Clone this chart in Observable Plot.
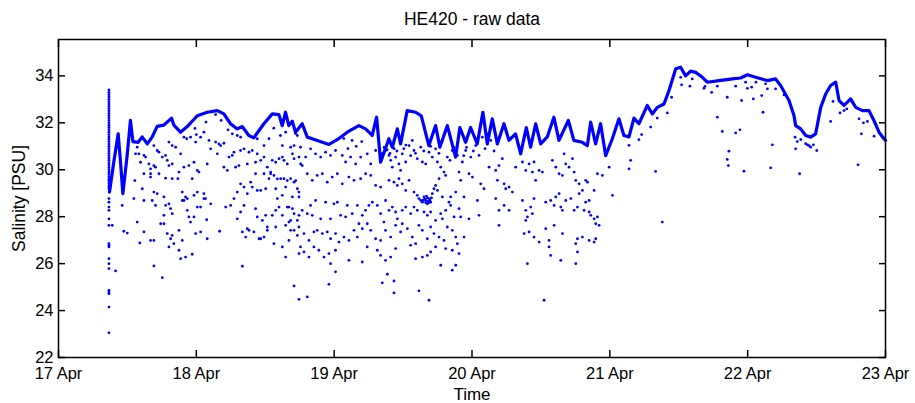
<!DOCTYPE html>
<html><head><meta charset="utf-8">
<script src="https://cdn.jsdelivr.net/npm/d3@7"></script>
<script src="https://cdn.jsdelivr.net/npm/@observablehq/plot@0.6"></script>
<style>body{margin:0;background:#fff;overflow:hidden} svg{display:block}</style>
</head><body><div id="chart"></div>
<script>
const titleText = "HE420 - raw data";
const xLabel = "Time";
const yLabel = "Salinity [PSU]";
const xTicks = [17, 18, 19, 20, 21, 22, 23];
const yTicks = [22, 24, 26, 28, 30, 32, 34];

// upper (dense) record traced as a line: day of April, salinity
const lineDay = [17.370,17.401,17.433,17.450,17.467,17.498,17.522,17.540,17.578,17.607,17.644,17.680,17.716,17.764,17.820,17.837,17.885,17.934,18.007,18.079,18.152,18.200,18.248,18.297,18.333,18.381,18.417,18.490,18.551,18.599,18.623,18.647,18.671,18.696,18.720,18.768,18.805,18.877,18.962,19.022,19.095,19.179,19.228,19.276,19.308,19.337,19.397,19.422,19.458,19.482,19.530,19.591,19.632,19.687,19.736,19.767,19.821,19.881,19.912,19.954,19.990,20.038,20.079,20.111,20.147,20.184,20.232,20.268,20.316,20.353,20.394,20.425,20.462,20.498,20.546,20.594,20.631,20.699,20.739,20.800,20.837,20.861,20.897,20.933,20.970,21.018,21.066,21.102,21.139,21.175,21.211,21.272,21.308,21.345,21.393,21.429,21.478,21.514,21.550,21.586,21.623,21.671,21.707,21.792,21.889,21.949,21.998,22.058,22.143,22.203,22.239,22.300,22.336,22.348,22.385,22.421,22.457,22.493,22.530,22.566,22.602,22.639,22.663,22.699,22.747,22.784,22.832,22.880,22.916,22.953,22.989,23.000];
const lineSal = [29.05,30.32,31.53,30.32,28.98,30.61,32.10,31.20,31.17,31.40,31.10,31.40,31.85,31.90,32.20,31.90,31.60,31.84,32.30,32.45,32.52,32.38,31.96,31.74,31.84,31.46,31.36,31.96,32.38,32.35,31.88,32.45,31.88,32.07,31.60,31.96,31.39,31.25,31.08,31.28,31.60,31.88,31.74,31.46,32.24,30.32,31.32,30.96,31.74,31.10,32.52,32.45,32.30,31.03,31.88,30.96,31.88,30.54,31.80,31.17,31.80,31.10,32.45,31.10,32.17,31.10,31.96,31.25,31.53,30.68,31.80,30.96,31.96,31.10,31.40,32.24,31.25,32.10,31.25,31.17,31.03,32.03,31.10,31.96,30.60,31.32,32.17,31.46,31.40,32.20,31.96,32.74,32.38,32.66,32.80,33.37,34.30,34.37,34.00,34.20,34.15,33.94,33.73,33.80,33.87,33.91,34.05,33.94,33.80,33.87,33.59,32.95,32.31,31.88,31.74,31.46,31.39,31.53,32.66,33.23,33.59,33.73,32.95,32.74,33.02,32.66,32.52,32.52,32.10,31.60,31.32,31.25];

// vertical burst of samples at the start of the record
const spikeDay = 17.366;
const spikeSal = [33.40,33.30,33.20,33.10,33.00,32.90,32.80,32.70,32.60,32.50,32.40,32.30,32.20,32.10,32.00,31.90,31.80,31.70,31.60,31.50,31.40,31.30,31.20,31.10,31.00,30.90,30.80,30.70,30.60,30.50,30.40,30.30,30.20,30.10,30.00,29.90,29.80,29.70,29.60,29.50,29.40,29.30,29.20,28.77,28.62,28.41,28.27,27.91,27.63,26.85,26.78,26.71,26.21,26.00,25.79,24.86,24.79,24.72,24.15,23.05];

// scattered raw samples: [day of April, salinity]
const scatterPoints = [
[17.390,27.63],[17.414,25.69],[17.462,28.48],
[17.886,31.60],[17.910,31.39],[17.930,31.32],[17.958,31.39],[17.995,31.18],[18.031,31.39],[18.055,31.60],[18.092,31.25],[18.140,31.18],[18.164,31.10],[18.176,31.03],[18.200,31.13],[18.261,31.53],[18.297,31.46],[18.321,31.39],[18.442,31.32],[18.491,31.03],[18.527,31.32],[18.624,31.03],[18.648,31.60],[18.684,30.96],[18.709,31.03],[18.733,31.46],
[17.571,30.96],[17.692,31.03],[17.716,30.82],[17.729,30.75],[17.801,31.18],[17.825,31.03],[17.850,30.96],[17.886,30.68],[17.753,30.54],[17.777,30.61],[17.789,30.40],[17.801,30.18],[17.825,30.25],[17.559,30.68],[17.583,30.68],[17.595,30.32],[17.620,30.61],[17.632,30.54],[17.656,30.25],[17.668,30.04],[17.692,30.18],[17.704,30.11],[17.620,29.83],[17.668,29.83],[17.668,29.69],[17.729,29.83],[17.777,29.64],[17.874,29.90],[17.910,30.11],[17.946,30.18],[17.983,30.32],[18.007,29.97],[18.019,29.90],[18.079,30.25],[18.104,30.89],[18.152,30.68],[18.200,30.11],[18.225,29.97],[18.237,30.54],[18.261,30.61],[18.273,30.75],[18.285,30.11],[18.309,30.18],[18.321,30.82],[18.346,30.89],[18.370,30.25],[18.382,30.75],[18.406,30.82],[18.430,30.32],[18.442,30.68],[18.467,30.40],[18.491,30.54],[18.515,30.11],[18.539,29.90],[18.551,30.40],[18.576,30.32],[18.588,29.61],[18.600,30.47],[18.624,30.54],[18.636,30.40],[18.660,30.25],[18.660,29.54],[18.697,30.68],[18.709,30.47],[18.721,29.54],[18.745,30.54],[18.757,30.25],
[17.554,29.54],[17.608,29.19],[17.692,29.05],[17.716,28.98],[17.825,29.62],[17.866,29.62],[17.898,29.05],[17.910,28.69],[17.922,28.84],[17.934,28.77],[17.970,29.62],[17.983,28.91],[18.007,29.05],[18.055,28.98],[18.067,28.77],[18.104,28.55],[18.213,28.41],[18.249,28.48],[18.273,28.77],[18.297,29.05],[18.321,29.40],[18.346,29.26],[18.370,28.98],[18.394,29.47],[18.406,29.26],[18.430,29.83],[18.442,29.12],[18.467,29.12],[18.491,29.83],[18.503,29.19],[18.527,29.62],[18.539,29.83],[18.563,29.76],[18.576,29.19],[18.588,28.77],[18.612,29.62],[18.624,28.91],[18.636,29.62],[18.648,29.26],[18.672,28.41],[18.684,29.62],[18.697,28.84],[18.709,29.47],[18.733,29.19],[18.745,28.84],
[17.547,28.77],[17.620,28.69],[17.680,28.69],[17.704,28.48],[17.765,28.84],[17.777,28.48],[17.801,28.55],[17.813,28.34],[17.765,28.06],[17.825,28.13],[17.898,28.69],[17.934,28.27],[17.946,27.99],[17.958,27.77],[17.983,27.99],[18.007,28.41],[18.031,28.41],[18.055,28.77],[18.075,27.87],[18.297,27.91],[18.321,28.20],[18.346,28.48],[18.430,28.34],[18.442,27.99],[18.479,27.84],[18.503,28.06],[18.515,27.56],[18.551,28.06],[18.576,28.27],[18.600,28.41],[18.624,28.06],[18.648,27.63],[18.660,28.41],[18.672,27.77],[18.684,27.84],[18.697,28.34],[18.709,28.13],[18.733,27.84],[18.745,28.06],
[17.571,27.77],[17.741,27.70],[17.765,27.70],[17.620,27.35],[17.668,26.99],[17.692,26.99],[17.590,26.88],[17.789,27.28],[17.813,27.06],[17.825,27.20],[17.801,26.71],[17.837,26.85],[17.874,27.42],[17.898,26.99],[17.874,26.57],[17.886,26.21],[17.922,26.28],[17.970,26.40],[17.995,27.28],[18.031,27.35],[18.079,27.06],[18.169,27.38],[18.334,27.35],[18.358,27.13],[18.370,27.49],[18.382,27.42],[18.418,27.35],[18.455,27.06],[18.467,27.06],[18.491,27.13],[18.515,27.42],[18.563,26.85],[18.576,27.56],[18.624,26.71],[18.648,26.28],[18.672,26.99],[18.684,27.42],[18.709,27.42],[18.733,27.20],[18.745,26.43],[17.692,25.90],[17.753,25.40],[18.334,25.89],[18.709,25.05],[18.745,24.48],[17.474,27.38],[17.499,27.30],
[17.990,31.76],[18.070,32.03],[18.140,32.35],[18.180,32.10],[18.230,31.70],[18.000,31.50],[18.562,31.77],[18.610,31.46],[18.720,31.54],[19.070,31.33],[19.130,31.25],[19.100,30.90],[19.160,31.00],[19.200,31.20],
[18.756,30.96],[18.793,30.54],[18.829,30.89],[18.865,30.68],[18.902,30.54],[18.938,30.75],[18.974,30.61],[19.010,30.82],[19.059,30.61],[19.083,30.33],[19.119,30.54],[19.156,30.25],[19.192,30.54],[19.240,30.68],[19.265,30.25],[19.301,30.82],[18.768,30.18],[18.805,29.83],[18.841,29.55],[18.877,29.76],[18.914,29.83],[18.950,29.47],[18.986,29.69],[19.023,29.83],[19.059,29.40],[19.107,29.69],[19.144,29.55],[19.192,29.62],[19.228,29.83],[19.265,29.76],[19.301,29.33],[19.337,29.26],
[19.373,30.82],[19.398,30.61],[19.410,30.40],[19.422,30.11],[19.446,30.54],[19.470,30.25],[19.482,29.97],[19.494,30.68],[19.519,30.33],[19.543,31.03],[19.567,31.25],[19.579,30.82],[19.603,30.47],[19.628,30.96],[19.640,30.33],[19.664,30.25],[19.688,30.75],[19.712,30.54],[19.736,30.89],[19.749,30.33],[19.773,30.11],[19.797,29.90],[19.821,30.54],[19.857,30.82],[19.894,30.61],[19.930,30.33],[19.954,30.82],[19.991,30.54],[20.027,31.03],[20.051,30.61],[20.075,31.39],[20.112,31.53],[20.136,31.25],
[19.350,30.70],[19.362,30.95],[19.385,30.85],[19.405,30.70],[19.435,30.90],[19.455,30.80],[19.505,30.90],[19.520,31.05],[19.555,30.60],[19.590,30.70],[19.650,30.80],[19.700,31.00],[19.760,30.70],[19.840,30.40],[19.870,30.95],[19.940,30.60],[19.960,30.95],[20.010,30.80],[20.095,30.90],[20.160,30.80],
[19.398,29.55],[19.434,29.47],[19.458,29.33],[19.470,29.62],[19.494,29.40],[19.519,29.12],[19.543,29.55],[19.579,29.05],[19.603,28.91],[19.615,28.77],[19.628,28.69],[19.640,28.62],[19.652,28.84],[19.664,28.69],[19.676,28.55],[19.688,28.77],[19.700,28.62],[19.712,28.98],[19.724,29.19],[19.736,29.33],[19.749,29.12],[19.761,29.62],[19.785,28.84],[19.809,29.76],[19.833,28.62],[19.845,28.84],[19.882,29.05],[19.906,29.90],[19.918,29.55],[19.942,28.84],[19.978,29.83],[20.003,29.69],[20.039,28.69],[20.063,29.40],[20.087,29.19],[20.124,30.11],
[19.658,28.75],[19.670,28.88],[19.682,28.65],[19.694,28.70],[19.706,28.80],[19.646,28.70],[19.676,28.80],[19.688,28.60],[19.664,28.60],
[20.172,29.97],[20.184,29.55],[20.196,30.18],[20.220,30.47],[20.233,29.40],[20.245,29.19],[20.269,29.26],[20.293,29.05],[20.317,30.11],[20.366,30.33],[20.390,29.97],[20.414,30.25],[20.438,29.90],[20.450,30.33],[20.462,29.55],[20.487,29.97],[20.511,29.90],
[20.583,30.40],[20.608,30.11],[20.632,29.83],[20.656,29.76],[20.668,30.68],[20.680,30.25],[20.704,30.11],[20.729,30.47],[20.741,29.90],[20.753,29.55],[20.777,29.40],[20.801,29.12],[20.825,29.55],[20.838,29.47],[20.850,28.69],[20.886,29.12],[20.910,29.83],[20.946,29.76],[21.019,28.91],[20.995,30.11],
[20.172,28.77],[20.196,28.27],[20.233,28.48],[20.269,28.27],[20.366,28.69],[20.390,28.27],[20.402,27.99],[20.426,28.41],[20.450,28.77],[20.438,28.13],[20.390,27.84],
[20.535,28.62],[20.571,28.69],[20.596,28.48],[20.608,28.84],[20.632,28.98],[20.644,28.41],[20.656,28.27],[20.680,28.69],[20.717,28.77],[20.741,28.27],[20.765,28.41],[20.777,28.98],[20.813,28.27],[20.825,28.62],[20.850,28.20],[20.862,28.06],[20.886,27.91],[20.898,27.70],[20.910,27.99],[20.922,27.63],
[18.744,29.05],[18.768,28.27],[18.805,28.13],[18.829,28.48],[18.841,28.06],[18.865,28.69],[18.902,27.91],[18.938,28.62],[18.974,27.91],[18.998,28.55],[19.023,28.62],[19.047,28.06],[19.083,27.99],[19.095,28.48],[19.131,28.13],[19.168,28.48],[19.204,28.06],[19.228,28.27],[19.252,28.48],[19.277,28.62],[19.313,28.48],[19.337,28.13],[19.361,27.77],[19.373,28.69],[19.398,28.27],[19.422,28.41],[19.446,28.20],[19.458,27.91],[19.494,28.27],[19.519,28.41],[19.555,28.13],[19.579,28.41],[19.603,28.27],[19.652,28.20],[19.676,28.06],[19.700,28.20],[19.736,27.84],[19.773,28.13],[19.785,27.91],[19.809,28.27],[19.845,28.48],[19.870,27.99],[19.906,28.34],[19.918,27.99],[19.978,27.91],[20.051,28.06],
[18.744,27.56],[18.781,27.28],[18.817,26.99],[18.853,27.35],[18.877,27.42],[18.914,27.28],[18.950,27.35],[18.974,27.06],[19.010,27.28],[19.035,26.92],[19.071,27.13],[19.107,26.99],[19.144,27.42],[19.168,27.13],[19.180,27.70],[19.204,27.49],[19.240,27.70],[19.265,27.42],[19.301,27.06],[19.337,26.99],[19.373,27.42],[19.410,27.13],[19.446,27.63],[19.482,27.35],[19.494,27.70],[19.531,27.49],[19.567,27.13],[19.591,26.85],[19.615,27.63],[19.640,27.42],[19.676,27.06],[19.700,27.56],[19.724,27.28],[19.761,27.13],[19.797,26.99],[19.821,27.56],[19.857,27.42],[19.882,27.13],[19.894,26.85],[19.942,27.13],
[20.196,27.63],[20.378,27.28],[20.414,27.35],[20.450,27.13],[20.487,26.92],[20.535,27.49],[20.559,26.99],[20.596,27.63],[20.656,27.28],[20.765,27.06],[20.801,27.13],[20.850,26.99],[20.886,26.92],[20.898,27.06],
[18.756,26.71],[18.781,26.50],[18.817,26.28],[18.853,26.71],[18.889,26.57],[18.926,26.28],[18.962,26.43],[19.010,26.57],[18.974,26.00],[19.107,26.14],[19.204,26.07],[19.240,26.71],[19.313,26.57],[19.337,26.35],[19.373,26.14],[19.410,26.28],[19.446,26.64],[19.555,26.78],[19.591,26.21],[19.640,26.28],[19.676,26.35],[19.700,26.50],[19.736,26.71],[19.773,25.93],[19.809,26.64],[19.857,26.57],[19.906,26.43],[19.882,25.93],
[20.402,26.00],[20.559,26.71],[20.571,26.35],[20.644,26.14],[20.753,26.85],[20.765,26.50],[20.753,26.00],
[19.010,25.65],[18.962,25.12],[18.805,24.58],[19.349,25.18],[19.386,25.55],[19.434,25.26],[19.434,24.75],[19.615,24.84],[19.688,24.44],[19.857,25.72],[20.523,24.44],
[21.381,27.77],[21.139,31.04],[21.151,30.40],[21.139,30.04],[21.211,31.28],[21.231,31.50],[21.296,31.82],[21.332,29.93],
[21.344,32.20],[21.417,32.42],[21.448,33.09],[21.514,33.94],[21.521,33.62],[21.581,33.56],[21.598,33.87],[21.683,33.47],[21.739,33.30],[21.780,32.24],[21.816,31.63],[21.852,33.09],[21.864,30.79],[21.852,30.44],[21.860,30.18],[21.913,31.57],[21.944,31.70],[21.956,32.95],[21.973,29.94],[21.998,33.47],[22.029,33.52],[22.041,33.02],[22.102,33.16],[22.111,32.45],[22.143,33.45],[22.167,30.08],[22.179,31.06],[22.203,33.45],[22.264,33.19],[22.344,31.39],[22.348,30.89],[22.377,29.83],
[21.690,33.55],[21.780,33.56],[21.913,33.56],[21.985,33.73],[22.060,33.73],[22.155,33.80],[22.130,33.66],
[22.360,31.20],[22.385,31.29],[22.421,31.11],[22.433,31.06],[22.445,31.03],[22.457,30.96],[22.477,31.06],[22.501,30.82],[22.602,32.06],[22.619,32.91],[22.670,32.42],[22.699,32.52],[22.719,32.59],[22.808,32.17],[22.801,30.21],[22.825,31.53],[22.840,32.00],[22.869,32.06],[22.917,31.43]
];

const linePts = lineDay.map((d, i) => ({day: d, sal: lineSal[i]}));
const dots = scatterPoints.map(([d, s]) => ({day: d, sal: s}))
  .concat(spikeSal.map(s => ({day: spikeDay, sal: s})));

const font = "'Liberation Sans', Arial, Helvetica, sans-serif";
const chart = Plot.plot({
  width: 915, height: 403,
  marginLeft: 58, marginRight: 30, marginTop: 39, marginBottom: 46,
  style: {fontFamily: font, fontSize: "16px", background: "white", color: "black", overflow: "visible"},
  x: {domain: [17, 23]},
  y: {domain: [22, 35.55]},
  marks: [
    Plot.dot(dots, {x: "day", y: "sal", r: 1.4, fill: "#0000ff", stroke: "none"}),
    Plot.line(linePts, {x: "day", y: "sal", stroke: "#0000ff", strokeWidth: 3.2, strokeLinejoin: "round"}),
    Plot.frame({stroke: "black", strokeWidth: 1.5}),
    Plot.axisX(xTicks, {tickSize: 7, dy: -7, fill: "none", label: null, strokeWidth: 1.5}),
    Plot.axisX(xTicks, {anchor: "top", tickSize: 7, dy: 7, fill: "none", label: null, strokeWidth: 1.5}),
    Plot.axisX(xTicks, {tickSize: 0, tickPadding: 10, tickFormat: d => `${d} Apr`, label: null, fontSize: 16.5}),
    Plot.axisY(yTicks, {tickSize: 7, dx: 7, fill: "none", label: null, strokeWidth: 1.5}),
    Plot.axisY(yTicks, {anchor: "right", tickSize: 7, dx: -7, fill: "none", label: null, strokeWidth: 1.5}),
    Plot.axisY(yTicks, {tickSize: 0, tickPadding: 5, label: null, fontSize: 16.5}),
    Plot.text([titleText], {frameAnchor: "top", lineAnchor: "middle", dy: -20, fontSize: 17.5}),
    Plot.text([xLabel], {frameAnchor: "bottom", lineAnchor: "middle", dy: 37, fontSize: 17}),
    Plot.text([yLabel], {frameAnchor: "left", textAnchor: "middle", lineAnchor: "middle", dx: -39, rotate: -90, fontSize: 17.5})
  ]
});
document.getElementById("chart").appendChild(chart);
</script>
</body></html>
